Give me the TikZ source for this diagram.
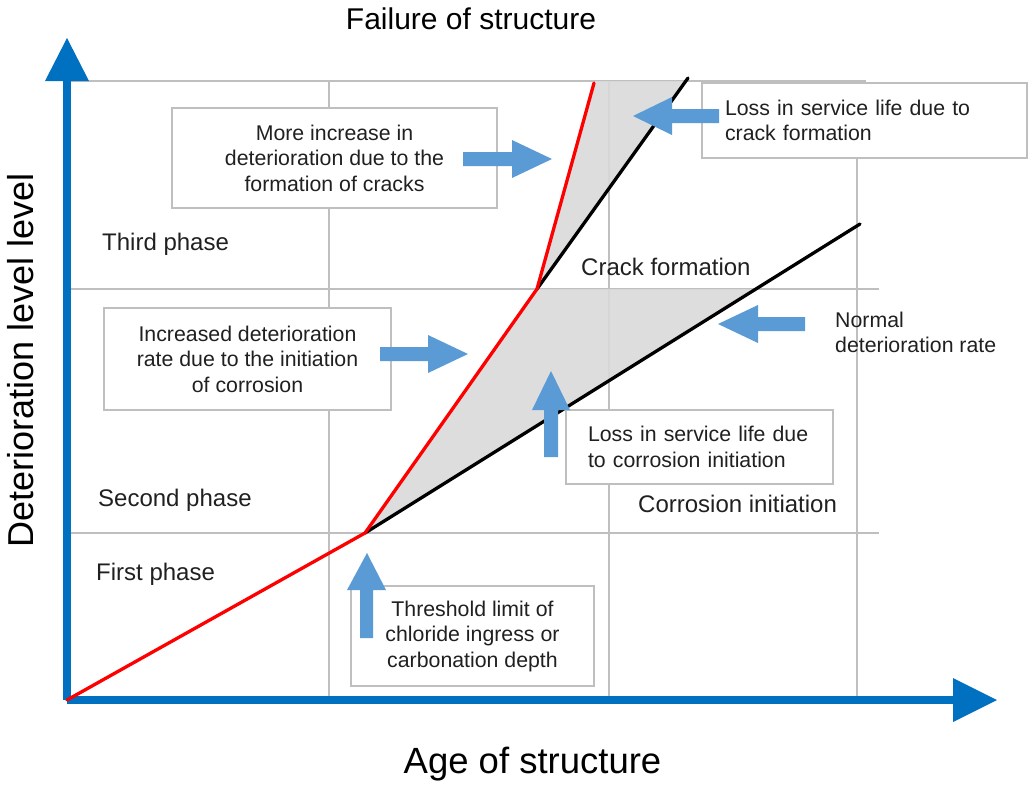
\documentclass[tikz,border=0pt]{standalone}
\usepackage{fontspec}
\setmainfont{Liberation Sans}
\definecolor{axisblue}{HTML}{0070C0}
\definecolor{arrowblue}{HTML}{5B9BD5}
\definecolor{gridgrey}{HTML}{BFBFBF}
\definecolor{lossgrey}{HTML}{D9D9D9}
\definecolor{textgrey}{HTML}{202020}
\newcommand{\fs}[1]{\fontsize{#1}{#1}\selectfont}
\tikzset{
  gridline/.style={draw=gridgrey, line width=1.8pt},
  axisline/.style={draw=axisblue, line width=8pt},
  axishead/.style={fill=axisblue},
  degline/.style={line width=3.3pt, line cap=round, line join=round},
  blockarr/.style={fill=arrowblue},
  infobox/.style={draw=gridgrey, fill=white, line width=1.2pt, inner sep=0pt,
    text=textgrey, font=\fontsize{21.3}{25.5}\selectfont},
  txtlabel/.style={inner sep=0pt, text=textgrey},
}
\begin{document}
\begin{tikzpicture}[x=1pt, y=-1pt]
\useasboundingbox (0,0) rectangle (1028,785);

% key points of the deterioration curves
\coordinate (O)  at (67,700);
\coordinate (T)  at (365,533);   % threshold reached
\coordinate (C)  at (537,289);   % crack formation
\coordinate (F)  at (594,81);    % failure, accelerated path
\coordinate (Fe) at (594,83);
\coordinate (N)  at (860,224);   % end of normal deterioration line
\coordinate (Nc) at (756,289);   % normal line at crack level
\coordinate (Ct) at (686,81);    % crack-rate line at failure level
\coordinate (Ce) at (688,78);

% grid
\draw[gridline] (67,81) -- (866,81);
\draw[gridline] (67,289) -- (879,289);
\draw[gridline] (67,533) -- (879,533);
\draw[gridline] (329,81) -- (329,700);
\draw[gridline] (609,81) -- (609,700);
\draw[gridline] (857,81) -- (857,700);

% service-life loss regions
\fill[lossgrey, fill opacity=0.9] (T) -- (C) -- (Nc) -- cycle;
\fill[lossgrey, fill opacity=0.9] (C) -- (F) -- (Ct) -- cycle;

% axes
\draw[axisline] (O) -- (67,81);
\fill[axishead] (45,81) -- (67,38) -- (89,81) -- cycle;
\draw[axisline] (O) -- (953,700);
\fill[axishead] (953,678) -- (997,700) -- (953,722) -- cycle;

% deterioration curves
\draw[degline, black] (T) -- (N);
\draw[degline, black] (C) -- (Ce);
\draw[degline, red] (O) -- (T) -- (C) -- (Fe);

% information boxes
\node[infobox, minimum width=325, minimum height=100, align=center]
  (boxcrackrate) at (334.5,158) {More increase in\\deterioration due to the\\formation of cracks};
\node[infobox, minimum width=325, minimum height=75, text width=279, align=left]
  (boxcracklife) at (864.5,120.5) {Loss in service life due to\\crack formation};
\node[infobox, minimum width=287, minimum height=102, align=center]
  (boxcorrrate) at (247.5,359) {Increased deterioration\\rate due to the initiation\\of corrosion};
\node[infobox, minimum width=267, minimum height=74, text width=223, align=left]
  (boxcorrlife) at (699.5,447) {Loss in service life due\\to corrosion initiation};
\node[infobox, minimum width=243, minimum height=100, align=center]
  (boxthreshold) at (472.5,636) {Threshold limit of\\chloride ingress or\\carbonation depth};

% block arrows
\fill[blockarr] (463,152) -- (512,152) -- (512,140) -- (552,159) -- (512,178) -- (512,166) -- (463,166) -- cycle;
\fill[blockarr] (719,109) -- (672,109) -- (672,97) -- (633,116) -- (672,135) -- (672,123) -- (719,123) -- cycle;
\fill[blockarr] (380,347) -- (428,347) -- (428,335) -- (468,354) -- (428,373) -- (428,361) -- (380,361) -- cycle;
\fill[blockarr] (805,317) -- (758,317) -- (758,305) -- (718,324) -- (758,343) -- (758,331) -- (805,331) -- cycle;
\fill[blockarr] (544,457) -- (544,410) -- (532,410) -- (551,371) -- (570,410) -- (558,410) -- (558,457) -- cycle;
\fill[blockarr] (360,638) -- (360,590) -- (347,590) -- (367,553) -- (386,590) -- (373,590) -- (373,638) -- cycle;

% phase and event labels
\node[txtlabel, anchor=base west, font=\fs{24}] (third)  at (102,250) {Third phase};
\node[txtlabel, anchor=base west, font=\fs{24}] (second) at (98,506) {Second phase};
\node[txtlabel, anchor=base west, font=\fs{24}] (first)  at (96,580) {First phase};
\node[txtlabel, anchor=base west, font=\fs{24}] (crack)  at (581,275) {Crack formation};
\node[txtlabel, anchor=base west, font=\fs{24}] (corr)   at (638,512) {Corrosion initiation};
\node[txtlabel, anchor=base west, font=\fontsize{21.3}{25}\selectfont, align=left] (normal) at (835,352)
  {Normal\\deterioration rate};

% axis titles
\node[txtlabel, anchor=base, font=\fs{30}, text=black] (failure) at (471,29) {Failure of structure};
\node[txtlabel, anchor=base, font=\fs{36.5}, text=black] (age) at (532.5,773) {Age of structure};
\node[txtlabel, anchor=base, rotate=90, font=\fs{36}, text=black] (level) at (33,360) {Deterioration level level};
\end{tikzpicture}
\end{document}
